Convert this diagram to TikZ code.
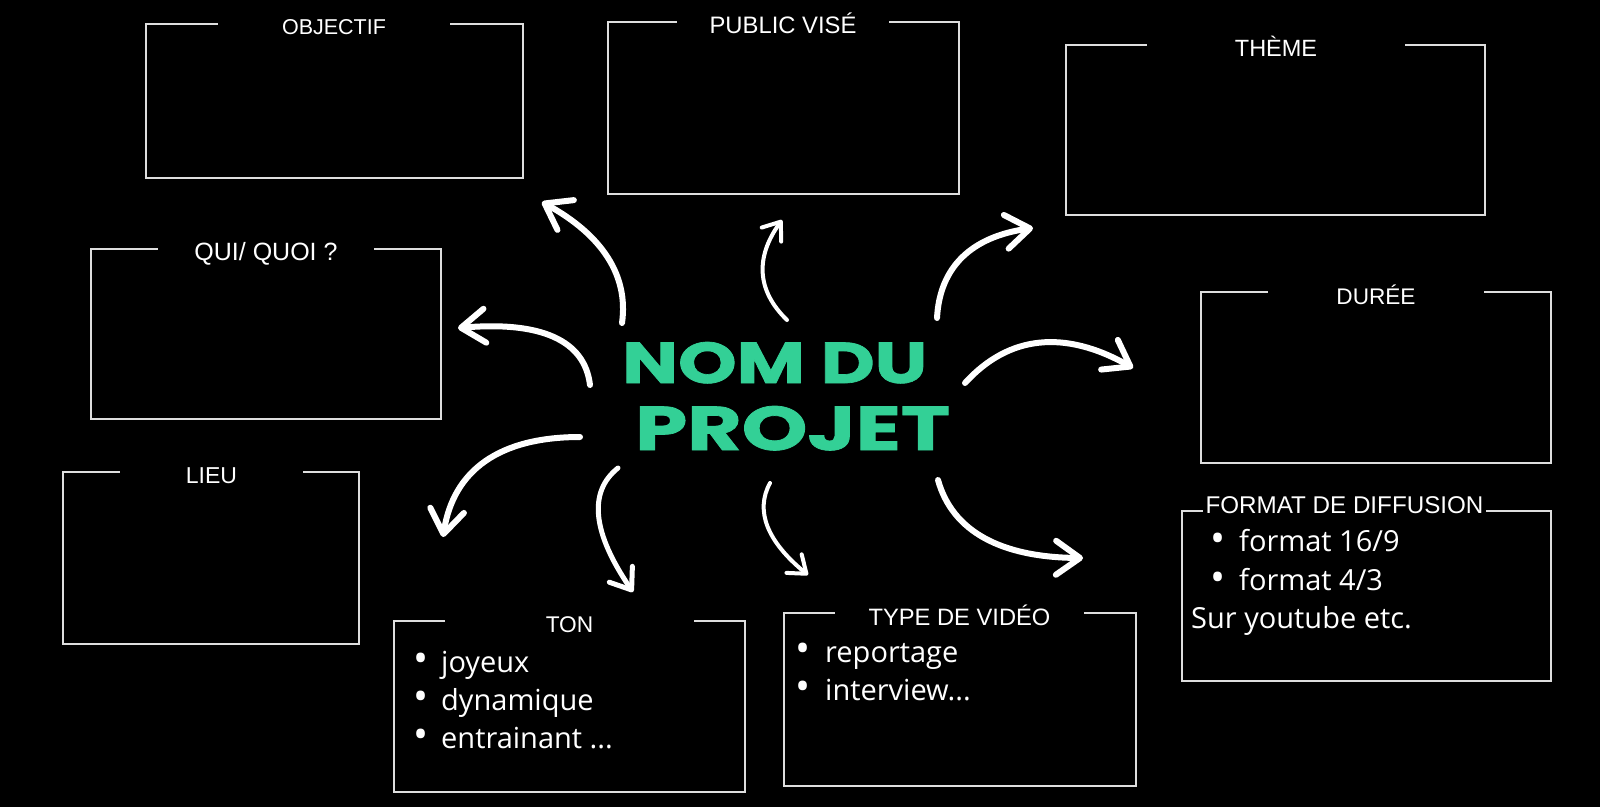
\documentclass[tikz,border=0pt]{standalone}
\usepackage{fontspec}
\setmainfont{Liberation Sans}
\newfontfamily\itemfont{Open Sans}
\newfontfamily\bigtitlefont{Poppins}[BoldFeatures={FakeBold=1.2}]
\usetikzlibrary{arrows.meta,calc}
\definecolor{mint}{RGB}{51,208,150}
\definecolor{frameg}{RGB}{222,222,222}
\newcommand\mkframe[3]{\draw[frame] ([xshift=#2]#1.north west) -- (#1.north west) -- (#1.south west) -- (#1.south east) -- (#1.north east) -- ([xshift=-#3]#1.north east);}
\newcommand\tsz[1]{\fontsize{#1}{#1}\selectfont}
\begin{document}
\begin{tikzpicture}[x=1pt,y=-1pt,
  frame/.style={draw=frameg, line width=2pt, line cap=rect},
  boxnode/.style={draw=none, inner sep=0pt, outer sep=0pt, anchor=north west},
  ttl/.style={text=white, font=\tsz{23}, anchor=base, inner sep=0pt},
  itm/.style={text=white, font=\itemfont\tsz{29}, anchor=base west, inner sep=0pt},
  bul/.style={text=white, font=\itemfont\tsz{40}, anchor=center, inner sep=0pt},
  bigtxt/.style={text=mint, font=\bigtitlefont\bfseries, anchor=base west, inner sep=0pt},
  arrbig/.style={draw=white, line width=6pt, line cap=round, -{Straight Barb[length=24pt,width=34pt,round]}},
  arrmid/.style={draw=white, line width=5pt, line cap=round, -{Straight Barb[length=19pt,width=28pt,round]}},
  arrsmall/.style={draw=white, line width=4pt, line cap=round, -{Straight Barb[length=16pt,width=24pt,round]}}
]
\fill[black] (0,0) rectangle (1600,807);
\useasboundingbox (0,0) rectangle (1600,807);

% boxes
\node[boxnode, minimum width=377pt, minimum height=154pt] (obj) at (146,24) {};
\node[boxnode, minimum width=351pt, minimum height=172pt] (pub) at (608,22) {};
\node[boxnode, minimum width=419pt, minimum height=170pt] (thm) at (1066,45) {};
\node[boxnode, minimum width=350pt, minimum height=170pt] (qui) at (91,249) {};
\node[boxnode, minimum width=350pt, minimum height=171pt] (dur) at (1201,292) {};
\node[boxnode, minimum width=296pt, minimum height=172pt] (lieu) at (63,472) {};
\node[boxnode, minimum width=351pt, minimum height=171pt] (ton) at (394,621) {};
\node[boxnode, minimum width=352pt, minimum height=173pt] (typ) at (784,613) {};
\node[boxnode, minimum width=369pt, minimum height=170pt] (fmt) at (1182,511) {};

\mkframe{obj}{71pt}{72pt}
\mkframe{pub}{68pt}{69pt}
\mkframe{thm}{80pt}{79pt}
\mkframe{qui}{66pt}{66pt}
\mkframe{dur}{66pt}{66pt}
\mkframe{lieu}{56pt}{55pt}
\mkframe{ton}{50pt}{50pt}
\mkframe{typ}{50pt}{51pt}
\mkframe{fmt}{20pt}{64pt}

% titles
\node[ttl, font=\tsz{21.5}] (objT) at (334,34) {OBJECTIF};
\node[ttl, font=\tsz{23.8}] (pubT) at (783,33) {PUBLIC VISÉ};
\node[ttl, font=\tsz{23.5}] (thmT) at (1276,56) {THÈME};
\node[ttl, font=\tsz{25}] (quiT) at (266,260) {QUI/ QUOI ?};
\node[ttl, font=\tsz{22.6}] (durT) at (1376,304) {DURÉE};
\node[ttl, font=\tsz{23}] (lieuT) at (211.5,483) {LIEU};
\node[ttl, font=\tsz{22.7}] (tonT) at (569.5,632) {TON};
\node[ttl, font=\tsz{23.7}] (typT) at (959.5,625) {TYPE DE VIDÉO};
\node[ttl, font=\tsz{24.2}] (fmtT) at (1344.5,513) {FORMAT DE DIFFUSION};

% lists
\node[bul] (tonB1) at (421,662.7) {•};
\node[itm] (tonI1) at (441,672) {joyeux};
\node[bul] (tonB2) at (421,700.7) {•};
\node[itm] (tonI2) at (441,710) {dynamique};
\node[bul] (tonB3) at (421,738.7) {•};
\node[itm] (tonI3) at (441,748) {entrainant ...};

\node[bul] (typB1) at (803,652.7) {•};
\node[itm] (typI1) at (825,662) {reportage};
\node[bul] (typB2) at (803,690.7) {•};
\node[itm] (typI2) at (825,700) {interview...};

\node[bul] (fmtB1) at (1218,542.3) {•};
\node[itm] (fmtI1) at (1239,551) {format 16/9};
\node[bul] (fmtB2) at (1218,581.7) {•};
\node[itm] (fmtI2) at (1239,590) {format 4/3};
\node[itm] (fmtI3) at (1191,628) {Sur youtube etc.};

% central title
\node[bigtxt] (nom) at (622,383) {\resizebox{305pt}{41pt}{NOM DU}};
\node[bigtxt] (projet) at (635,450) {\resizebox{315pt}{44pt}{PROJET}};

% arrow end points
\coordinate (aS) at (622,323); \coordinate (aE) at (542,202);
\coordinate (bS) at (590,385); \coordinate (bE) at (458,328);
\coordinate (cS) at (787,320); \coordinate (cE) at (782,220);
\coordinate (dS) at (937,318); \coordinate (dE) at (1033,228);
\coordinate (eS) at (965,383); \coordinate (eE) at (1133,368);
\coordinate (fS) at (580,437); \coordinate (fE) at (443,537);
\coordinate (gS) at (618,468); \coordinate (gE) at (633,592);
\coordinate (hS) at (770,483); \coordinate (hE) at (808,575);
\coordinate (iS) at (938,480); \coordinate (iE) at (1083,558);

\draw[arrbig] (aS) .. controls (628.7,275.3) and (602,235) .. (aE);
\draw[arrbig] (bS) .. controls (584.7,340) and (540.7,321) .. (bE);
\draw[arrsmall] (cS) .. controls (756.7,290.7) and (755,257.3) .. (cE);
\draw[arrbig] (dS) .. controls (939.7,266.7) and (971.7,236.7) .. (dE);
\draw[arrbig] (eS) .. controls (1009,334.7) and (1065,329.7) .. (eE);
\draw[arrbig] (fS) .. controls (499,437) and (453.3,470.3) .. (fE);
\draw[arrmid] (gS) .. controls (587.7,492) and (592.7,533.3) .. (gE);
\draw[arrsmall] (hS) .. controls (754.7,511) and (767.3,541.7) .. (hE);
\draw[arrbig] (iS) .. controls (952.3,531.3) and (1000.7,557.3) .. (iE);
\end{tikzpicture}
\end{document}
